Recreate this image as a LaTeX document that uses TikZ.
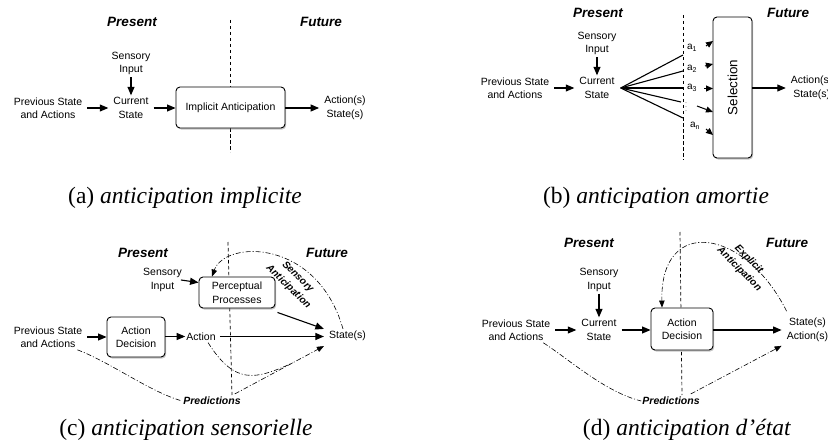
\documentclass[tikz,border=0pt]{standalone}
\usepackage{fontspec}
\setmainfont{Liberation Serif}
\setsansfont{Liberation Sans}
\usetikzlibrary{arrows.meta,shadows,calc}
\begin{document}
\begin{tikzpicture}[x=1pt,y=-1pt,
  lbl/.style={font=\sffamily\fontsize{10.5}{13.5}\selectfont, align=center, inner xsep=5pt, inner ysep=2pt},
  sub/.style={font=\sffamily\fontsize{10}{12}\selectfont, inner sep=0pt},
  hdr/.style={font=\sffamily\bfseries\itshape\fontsize{13.5}{16}\selectfont, inner sep=1pt},
  predl/.style={font=\sffamily\bfseries\itshape\fontsize{10.5}{12}\selectfont, inner sep=1pt},
  antl/.style={font=\sffamily\bfseries\itshape\fontsize{10}{13.5}\selectfont, align=center, inner sep=0pt},
  capt/.style={font=\fontsize{23.5}{27}\selectfont, inner sep=0pt},
  boxn/.style={draw, line width=0.9pt, rounded corners=4pt, fill=white, align=center,
    font=\sffamily\fontsize{10.5}{13.5}\selectfont, inner sep=0pt,
    drop shadow={shadow xshift=1.2pt, shadow yshift=-1.5pt, opacity=0.45}},
  arr/.style={line width=1.1pt, -{Triangle[length=8.5pt,width=7pt]}},
  tinyarr/.style={line width=1pt, -{Triangle[length=7pt,width=6pt]}},
  fanl/.style={line width=1.1pt},
  ddot/.style={line width=0.6pt, dash pattern=on 5pt off 2pt on 1pt off 2pt},
  ddarr/.style={ddot, -{Triangle[length=7pt,width=5.5pt]}},
  divl/.style={line width=0.7pt, dash pattern=on 3.5pt off 2.5pt},
]
\useasboundingbox (0,0) rectangle (828,444);

% ---------------- (a) ----------------
\node[hdr] (pa) at (132,22) {Present};
\node[hdr] (fa) at (321,22) {Future};
\coordinate (da1) at (230,20);
\coordinate (da2) at (230,152);
\draw[divl] (da1) -- (da2);
\node[lbl] (sia) at (131,63.5) {Sensory\\Input};
\node[lbl] (csa) at (131,108) {Current\\State};
\node[lbl] (psa) at (48,108) {Previous State\\and Actions};
\node[boxn, minimum width=109pt, minimum height=41pt] (ia) at (230.5,107.5) {Implicit Anticipation};
\node[lbl] (asa) at (345,108) {Action(s)\\State(s)};
\draw[arr] (sia) -- (csa);
\draw[arr] (psa) -- (csa);
\draw[arr] (csa.east) -- (csa.east -| ia.west);
\draw[arr] (ia.east |- asa.west) -- (asa.west);
\node[capt, anchor=base] (ca) at (185,203) {(a) \textit{anticipation implicite}};

% ---------------- (b) ----------------
\node[hdr] (pb) at (598,13) {Present};
\node[hdr] (fb) at (788,13) {Future};
\coordinate (db1) at (683,15);
\coordinate (db2) at (683,160);
\draw[divl] (db1) -- (db2);
\node[lbl] (sib) at (597,43.5) {Sensory\\Input};
\node[lbl] (csb) at (597,88) {Current\\State};
\node[lbl] (psb) at (515,88) {Previous State\\and Actions};
\draw[arr] (sib) -- (csb);
\draw[arr] (psb) -- (csb);
\coordinate (f1) at (683,55);
\coordinate (f2) at (683,71);
\coordinate (f3) at (683,88);
\coordinate (f4) at (681,102);
\coordinate (f5) at (683,118);
\foreach \i in {1,...,5} \draw[fanl] ([xshift=1pt]csb.east) -- (f\i);
\node[sub] (a1) at (692,48) {a\textsubscript{1}};
\node[sub] (a2) at (692,69) {a\textsubscript{2}};
\node[sub] (a3) at (692,88) {a\textsubscript{3}};
\node[inner sep=0pt, font=\fontsize{6}{7}\selectfont] (vd) at (686,104) {$\vdots$};
\node[sub] (an) at (695,126) {a\textsubscript{n}};
\node[boxn, minimum width=39pt, minimum height=141pt] (sel) at (732.5,87.5) {};
\node[rotate=90, inner sep=0pt, font=\sffamily\fontsize{13.4}{16}\selectfont] (selt) at (sel.center) {Selection};
\coordinate (s1) at (706,46);  \coordinate (t1) at (713,41);
\coordinate (s2) at (705,66);  \coordinate (t2) at (713,64);
\coordinate (s3) at (704,88.5); \coordinate (t3) at (713,88.5);
\coordinate (s4) at (697,106); \coordinate (t4) at (713,112);
\coordinate (s5) at (706,129); \coordinate (t5) at (713,135);
\foreach \i in {1,...,5} \draw[tinyarr] (s\i) -- (t\i);
\node[lbl] (asb) at (811.7,88) {Action(s)\\State(s)};
\draw[arr] (sel.east |- asb.west) -- (asb.west);
\node[capt, anchor=base] (cb) at (656,203) {(b) \textit{anticipation amortie}};

% ---------------- (c) ----------------
\node[hdr] (pc) at (143,253) {Present};
\node[hdr] (fc) at (327,253) {Future};
\coordinate (dc1) at (228,242);
\coordinate (dc2) at (232,395);
\draw[divl] (dc1) -- (dc2);
\node[lbl] (sic) at (162.5,280) {Sensory\\Input};
\node[boxn, minimum width=76pt, minimum height=31pt] (pp) at (237,292.5) {Perceptual\\Processes};
\node[lbl] (psc) at (48,337) {Previous State\\and Actions};
\node[boxn, minimum width=58pt, minimum height=40pt] (adc) at (136,337) {Action\\Decision};
\node[lbl, inner xsep=1pt] (act) at (201,336.5) {Action};
\node[lbl] (stc) at (347.5,336) {State(s)};
\node[predl] (prc) at (212,401) {Predictions};
\node[antl, rotate=-44] (sac) at (293,282) {Sensory\\Anticipation};
\draw[arr] ([xshift=-6pt]sic.east) -- ([yshift=10pt]pp.west);
\draw[arr] ([xshift=2pt,yshift=-4pt]pp.south east) -- (stc.north west);
\draw[arr] (psc.east) -- (psc.east -| adc.west);
\draw[arr] (adc.east |- act.west) -- (act.west);
\draw[arr] ([xshift=3pt]act.east) -- (act.east -| stc.west);
\draw[ddarr] ([xshift=-4.5pt]stc.north) .. controls (317,238) and (225,240) .. ([xshift=-25pt]pp.north);
\draw[ddot] ([xshift=-10pt]psc.south east) .. controls (110,362) and (150,392) .. (prc.west);
\coordinate (pcs) at ([xshift=-7pt,yshift=2pt]prc.north east);
\coordinate (pce) at ([yshift=-3pt]stc.south west);
\draw[ddarr] (pcs) -- (pce);
\draw[ddot] ([xshift=7pt]act.south) .. controls (235,385) and (255,380) .. ($(pcs)!0.65!(pce)$);
\node[capt, anchor=base] (cc) at (186,435) {(c) \textit{anticipation sensorielle}};

% ---------------- (d) ----------------
\node[hdr] (pd) at (589,243) {Present};
\node[hdr] (fd) at (787,243) {Future};
\coordinate (dd1) at (680,232);
\coordinate (dd2) at (682,395);
\draw[divl] (dd1) -- (dd2);
\node[lbl] (sid) at (599,280) {Sensory\\Input};
\node[lbl] (csd) at (599,330) {Current\\State};
\node[lbl] (psd) at (516,330) {Previous State\\and Actions};
\node[boxn, minimum width=62pt, minimum height=42pt] (add) at (682,329) {Action\\Decision};
\node[lbl] (std) at (807.5,330) {State(s)\\Action(s)};
\node[predl] (prd) at (671,401) {Predictions};
\node[antl, rotate=-45] (ead) at (744,264.5) {Explicit\\Anticipation};
\draw[arr] (sid) -- (csd);
\draw[arr] (psd) -- (csd);
\draw[arr] (csd.east) -- (csd.east -| add.west);
\draw[arr] (add.east |- std.west) -- (std.west);
\draw[ddarr] ([xshift=5pt,yshift=5pt]std.north west) .. controls (745,228) and (660,215) .. ([xshift=-20pt]add.north);
\draw[ddot] ([xshift=-12pt]psd.south east) .. controls (570,360) and (605,392) .. (prd.west);
\draw[ddarr] ([xshift=-10pt,yshift=2pt]prd.north east) -- ([yshift=-2pt]std.south west);
\node[capt, anchor=base] (cd) at (687,435) {(d) \textit{anticipation d’état}};
\end{tikzpicture}
\end{document}
